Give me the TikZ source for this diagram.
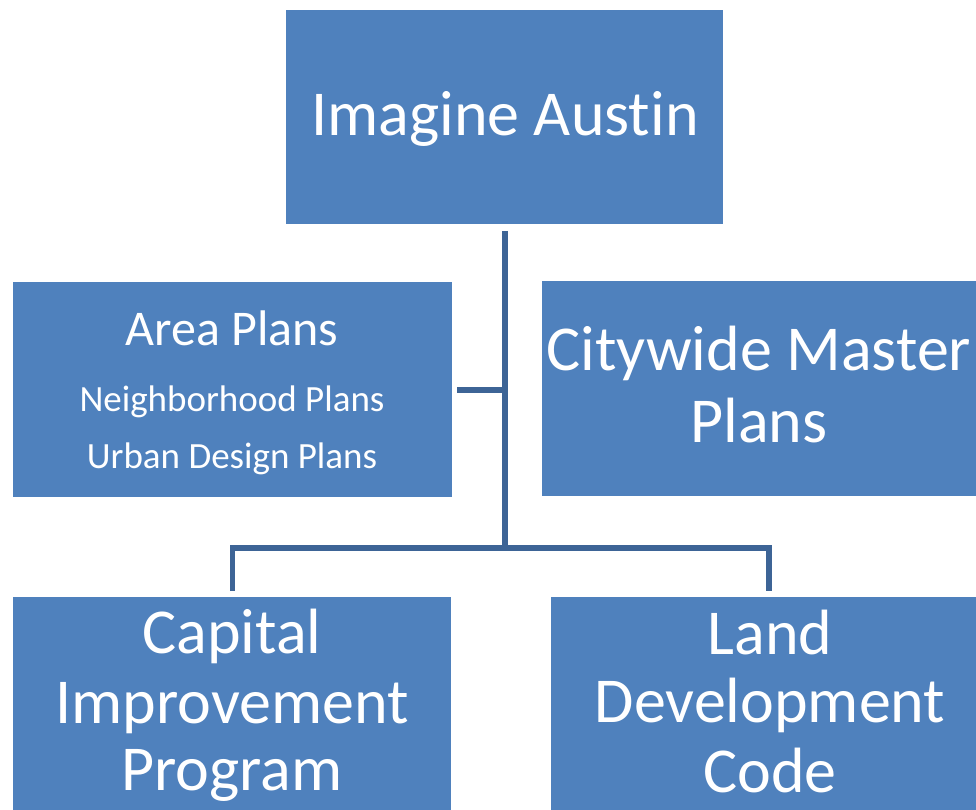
\documentclass[tikz,border=0pt]{standalone}
\usepackage{fontspec}
\setmainfont[Ligatures=NoCommon]{Carlito}
\definecolor{boxblue}{HTML}{4F81BD}
\definecolor{linkblue}{HTML}{3D6496}
\begin{document}
\begin{tikzpicture}[x=1pt,y=-1pt,
  plainbox/.style={fill=boxblue,draw=none},
  bigtxt/.style={text=white,font=\fontsize{64}{70}\selectfont,anchor=base,inner sep=0pt},
  midtxt/.style={text=white,font=\fontsize{50}{56}\selectfont,anchor=base,inner sep=0pt},
  smalltxt/.style={text=white,font=\fontsize{37}{42}\selectfont,anchor=base,inner sep=0pt},
  link/.style={draw=linkblue,line width=5.3pt}]
\useasboundingbox (0,0) rectangle (976,810);
\begin{scope}
\clip (0,0) rectangle (976,810);
% boxes
\node[plainbox,minimum width=437pt,minimum height=214pt,inner sep=0pt,anchor=north west] (top) at (286,10) {};
\node[plainbox,minimum width=439pt,minimum height=215pt,inner sep=0pt,anchor=north west] (area) at (13,282) {};
\node[plainbox,minimum width=434pt,minimum height=215pt,inner sep=0pt,anchor=north west] (city) at (542,281) {};
\node[plainbox,minimum width=438pt,minimum height=230pt,inner sep=0pt,anchor=north west] (cip) at (13,597) {};
\node[plainbox,minimum width=440pt,minimum height=230pt,inner sep=0pt,anchor=north west] (ldc) at (551,597) {};
% texts
\node[bigtxt] (topt) at (505,136) {Imagine Austin};
\node[midtxt] (areat1) at (232,345) {Area Plans};
\node[smalltxt] (areat2) at (232,411) {Neighborhood Plans};
\node[smalltxt] (areat3) at (232,468) {Urban Design Plans};
\node[bigtxt] (cityt1) at (759,370) {Citywide Master};
\node[bigtxt] (cityt2) at (759,442) {Plans};
\node[bigtxt] (cipt1) at (232,653) {Capital};
\node[bigtxt] (cipt2) at (232,723) {Improvement};
\node[bigtxt] (cipt3) at (232,790) {Program};
\node[bigtxt] (ldct1) at (770,654) {Land};
\node[bigtxt] (ldct2) at (770,722) {Development};
\node[bigtxt] (ldct3) at (770,792) {Code};
% connectors
\coordinate (trunktop) at (505,231);
\coordinate (trunkbot) at (505,548);
\coordinate (stubL) at (457,390);
\coordinate (stubR) at (505,390);
\coordinate (legL) at (232.5,591);
\coordinate (legR) at (769,591);
\draw[link] (trunktop) -- (trunkbot);
\draw[link] (stubL) -- (stubR);
\draw[link] (legL) |- (trunkbot) -| (legR);
\end{scope}
\end{tikzpicture}
\end{document}
